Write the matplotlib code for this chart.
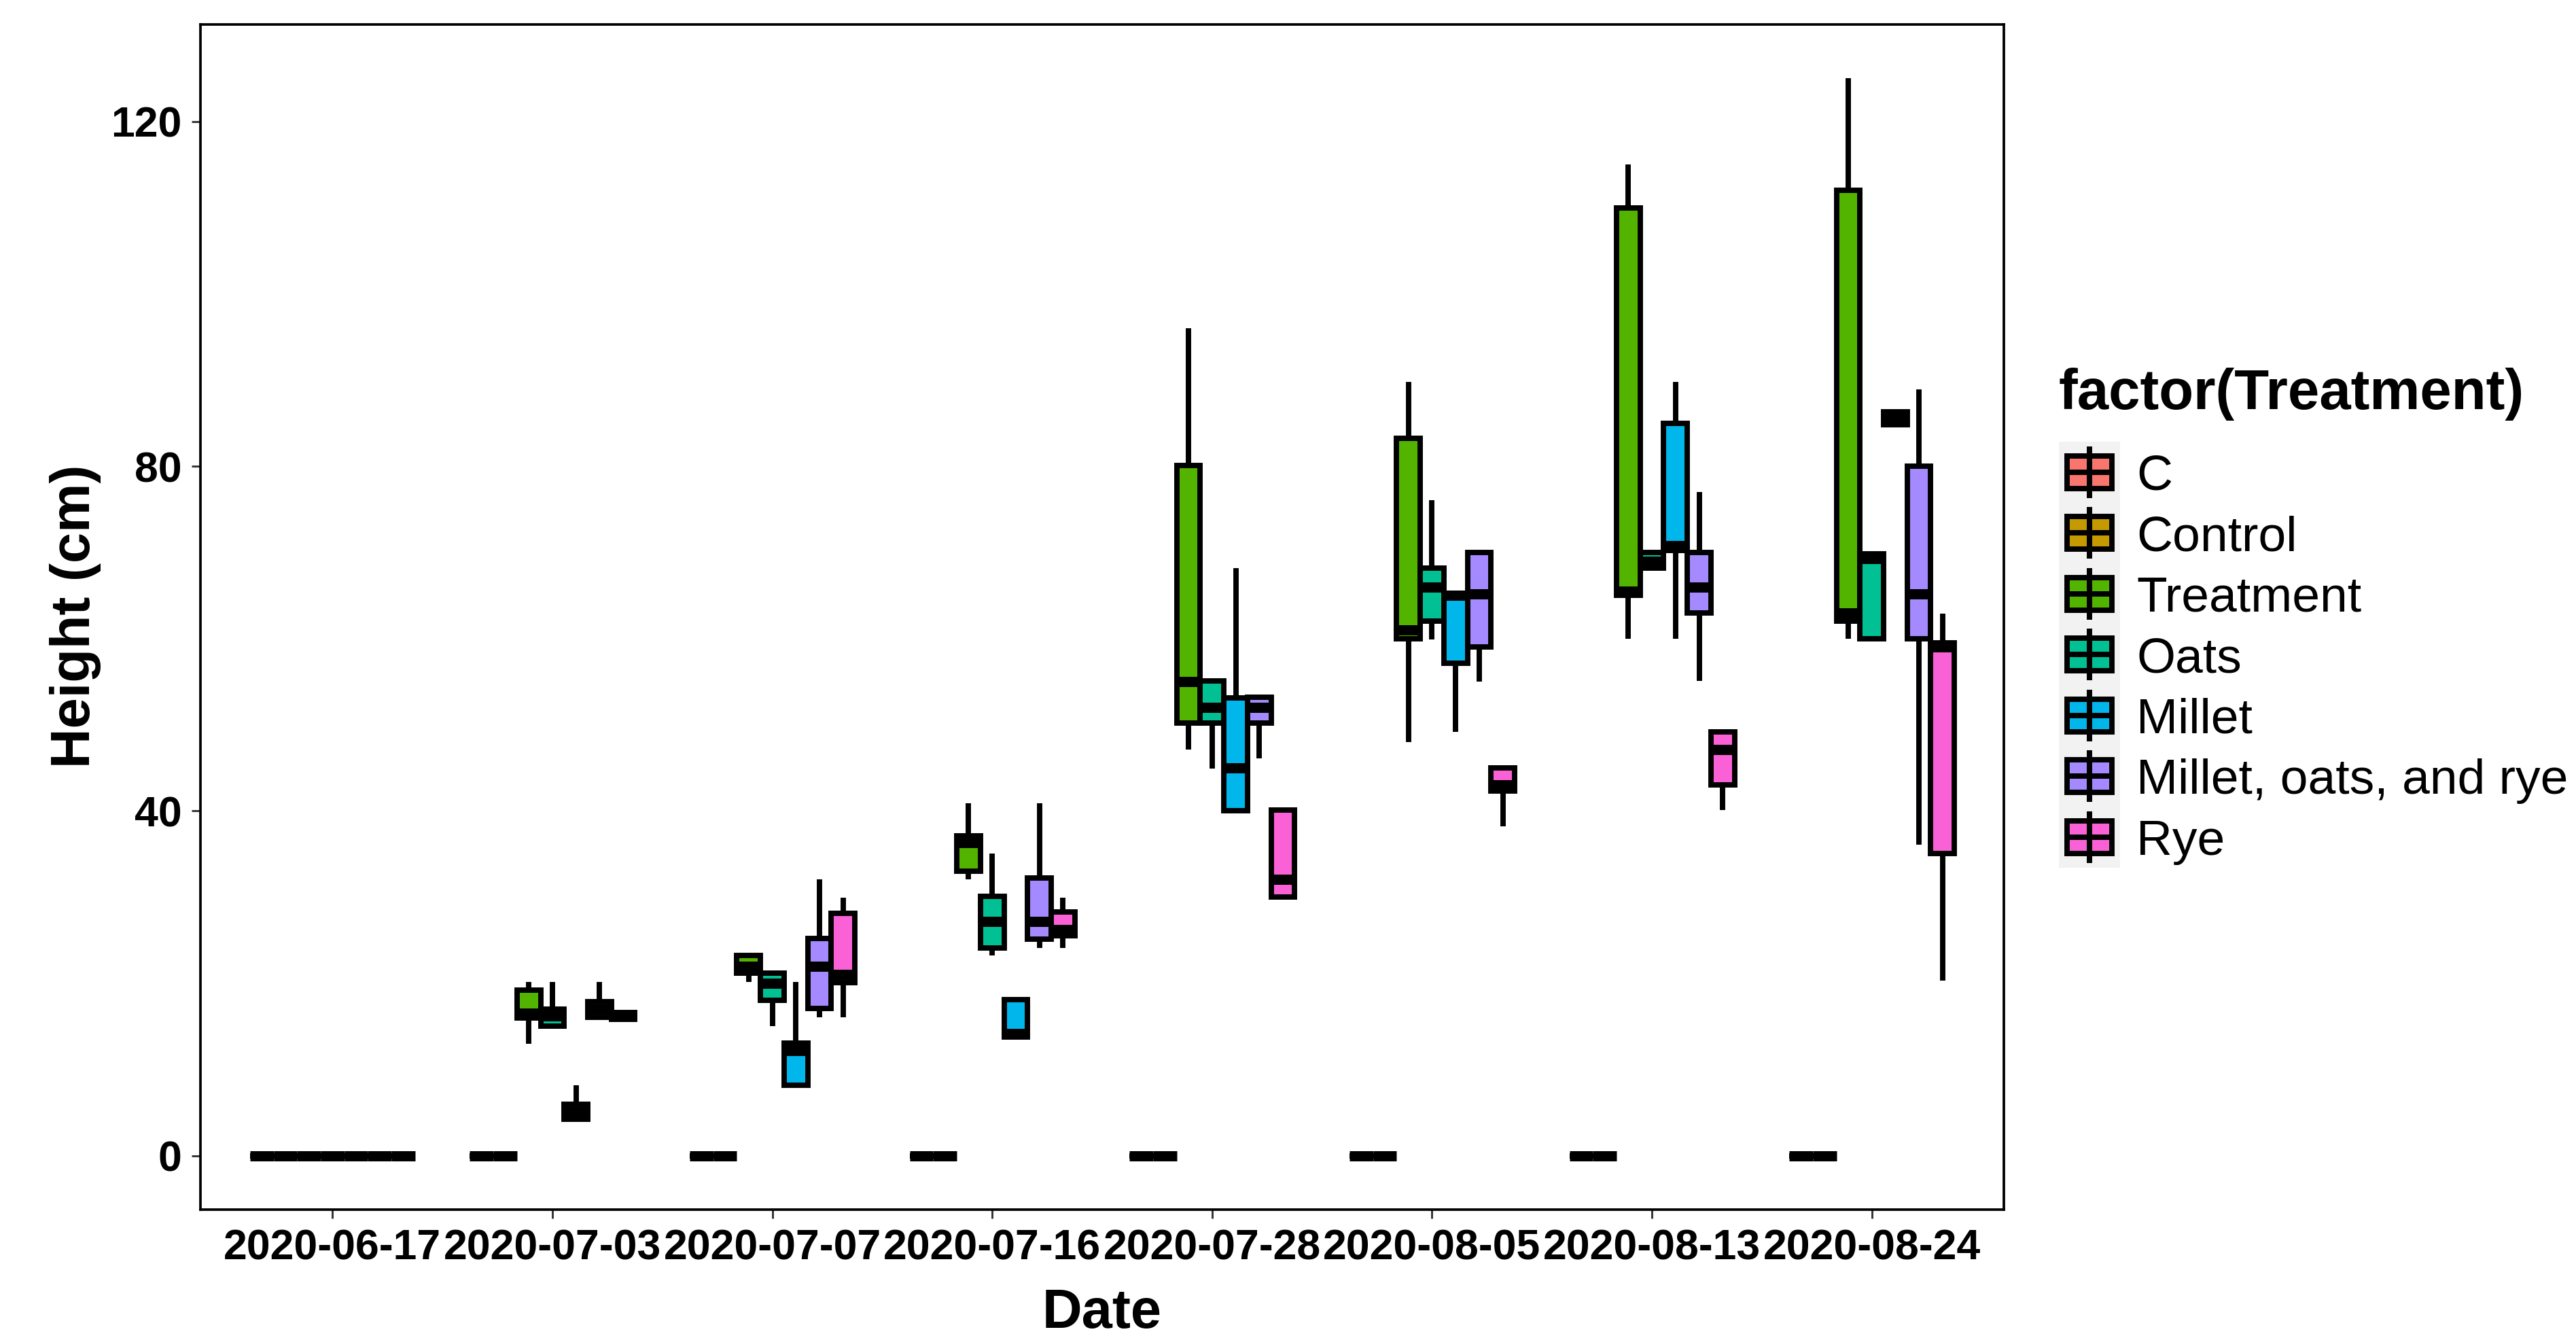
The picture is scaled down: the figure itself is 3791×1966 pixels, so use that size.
import matplotlib
matplotlib.use("Agg")
import matplotlib.pyplot as plt
from matplotlib.patches import Rectangle

# ---- data (five-number summaries: lower whisker, q1, median, q3, upper whisker) ----
dates = ["2020-06-17", "2020-07-03", "2020-07-07", "2020-07-16",
         "2020-07-28", "2020-08-05", "2020-08-13", "2020-08-24"]
treatments = ["C", "Control", "Treatment", "Oats", "Millet",
              "Millet, oats, and rye", "Rye"]
colors = ["#F8766D", "#C49A00", "#53B400", "#00C094", "#00B6EB", "#A58AFF", "#FB61D7"]

zero = (0, 0, 0, 0, 0)
c_stats = [zero] * 8
control_stats = [zero] * 8
treatment_stats = [zero, (13, 16, 16.5, 19.2, 20.2), (20.2, 21.2, 22, 23.2, 23.2),
                   (32.1, 33, 36.3, 37.1, 40.9), (47.1, 50.2, 55, 80.1, 96),
                   (48, 60, 61, 83.2, 89.8), (60, 65, 65.5, 110, 115),
                   (60, 62, 63, 112, 125)]
oats_stats = [zero, (15, 15, 16.2, 17, 20.2), (15, 18, 20, 21.2, 21.2),
              (23.2, 24.1, 27.2, 30.1, 35.1), (44.9, 50.2, 52, 55.1, 55.1),
              (59.9, 62, 66, 68.2, 76.1), (68.2, 68.2, 69, 70, 70),
              (60, 60, 69.3, 69.8, 69.8)]
millet_stats = [zero, (4.25, 4.25, 5.1, 6.0, 8.2), (8.2, 8.2, 12.2, 13.1, 20.2),
                (13.8, 13.8, 14.2, 18.1, 18.1), (40, 40, 45, 53.1, 68.2),
                (49.2, 57.1, 65, 65.2, 65.2), (60, 70.2, 70.8, 85, 89.8),
                (84.8, 84.8, 85.5, 86.3, 86.3)]
mix_stats = [zero, (16.1, 16.1, 17, 17.9, 20.2), (16.1, 17.1, 22, 25.2, 32.1),
             (24.1, 25.1, 27.2, 32.2, 40.9), (46.1, 50.2, 52, 53.2, 53.2),
             (55, 59, 65.2, 70, 70), (55.1, 63, 66, 70, 77),
             (36.1, 60, 65.2, 80, 88.9)]
rye_stats = [zero, (15.8, 15.8, 16.2, 16.6, 16.6), (16.1, 20.1, 21, 28.1, 29.9),
             (24.1, 25.5, 26.2, 28.3, 29.9), (30, 30, 32.1, 40.1, 40.1),
             (38.2, 42.3, 43, 45, 45), (40.1, 43, 47.1, 49.2, 49.2),
             (20.3, 35.1, 59, 59.5, 62.9)]
all_stats = [c_stats, control_stats, treatment_stats, oats_stats,
             millet_stats, mix_stats, rye_stats]
y_ticks = [0, 40, 80, 120]

FONT = "Liberation Sans"
W, H, DPI = 3791, 1966, 300
LW = 1.9

plt.rcParams["font.family"] = [FONT, "DejaVu Sans"]

fig = plt.figure(figsize=(W / DPI, H / DPI), dpi=DPI)
ax = fig.add_axes([295 / W, (H - 1780) / H, 2654 / W, 1744 / H])

n = len(treatments)
slot = 0.75 / n
for k, (stats, color) in enumerate(zip(all_stats, colors)):
    boxes = [dict(whislo=s[0], q1=s[1], med=s[2], q3=s[3], whishi=s[4], fliers=[])
             for s in stats]
    pos = [i + 1 + (k - (n - 1) / 2) * slot for i in range(len(dates))]
    ax.bxp(boxes, positions=pos, widths=slot, patch_artist=True,
           showfliers=False, showcaps=False, manage_ticks=False,
           boxprops=dict(facecolor=color, edgecolor="black", linewidth=LW,
                         joinstyle="miter"),
           whiskerprops=dict(color="black", linewidth=LW, solid_capstyle="butt"),
           medianprops=dict(color="black", linewidth=LW * 1.9, solid_capstyle="butt"))

ax.set_xlim(0.4, len(dates) + 0.6)
ax.set_ylim(-6.25, 131.25)
ax.set_xticks(range(1, len(dates) + 1))
ax.set_xticklabels(dates)
ax.set_yticks(y_ticks)
ax.tick_params(axis="both", color="#333333", length=3.1, width=0.7,
               labelsize=15, labelcolor="black")
ax.tick_params(axis="x", pad=3.5)
ax.tick_params(axis="y", pad=3.5)
for lab in ax.get_xticklabels() + ax.get_yticklabels():
    lab.set_fontweight("bold")
for side in ["top", "bottom", "left", "right"]:
    ax.spines[side].set_linewidth(0.9)
    ax.spines[side].set_color("black")

top = ax.secondary_xaxis("top")
top.set_xticks(range(1, len(dates) + 1))
top.tick_params(color="white", direction="inout", length=3, width=0.6, labeltop=False)
top.spines["top"].set_visible(False)

fig.text(1622 / W, 1 - 1933 / H, "Date", ha="center", va="center",
         fontsize=19.5, fontweight="bold")
fig.text(111 / W, 1 - 907 / H, "Height (cm)", ha="center", va="center",
         rotation=90, fontsize=19.5, fontweight="bold")

# ---- legend drawn in figure pixel space ----
lg = fig.add_axes([0, 0, 1, 1])
lg.set_xlim(0, W)
lg.set_ylim(H, 0)
lg.axis("off")
lg.text(3030, 602, "factor(Treatment)", fontsize=20, fontweight="bold",
        ha="left", va="baseline")
key_top, key_h = 650, 89.5
lg.add_patch(Rectangle((3030, key_top), 90, key_h * n, facecolor="#F2F2F2",
                       edgecolor="none"))
for k, (name, color) in enumerate(zip(treatments, colors)):
    cy = key_top + key_h * (k + 0.5)
    lg.plot([3075, 3075], [cy - 38, cy + 38], color="black", lw=LW,
            solid_capstyle="butt")
    lg.add_patch(Rectangle((3042, cy - 24), 66, 48, facecolor=color,
                           edgecolor="black", linewidth=LW, joinstyle="miter"))
    lg.plot([3042, 3108], [cy, cy], color="black", lw=LW, solid_capstyle="butt")
    lg.text(3144, cy, name, fontsize=17.6, ha="left", va="center_baseline")

fig.savefig("out.png", dpi=DPI)
